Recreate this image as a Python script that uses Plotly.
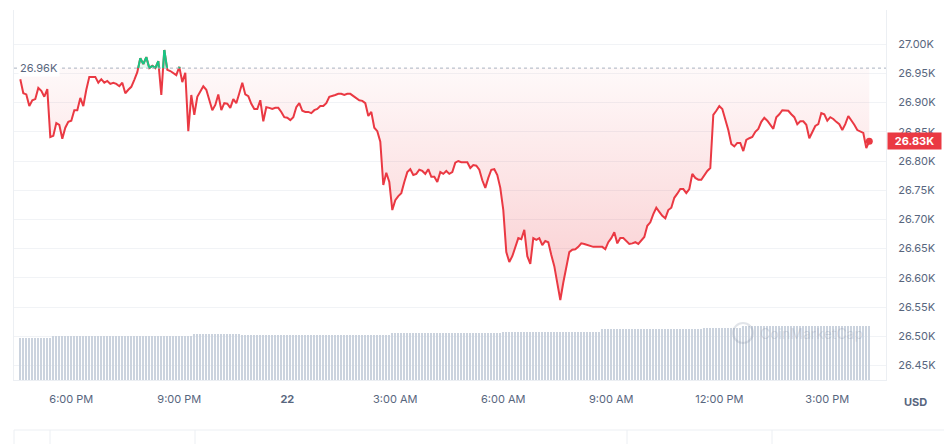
import pandas as pd
import plotly.graph_objects as go

# ---------------- data ----------------
price = [
    26940, 26916, 26914, 26894, 26904, 26906, 26925, 26920, 26910, 26923,
    26841, 26843, 26865, 26862, 26838, 26857, 26867, 26869, 26887, 26887,
    26908, 26894, 26922, 26944, 26944, 26944, 26934, 26940, 26934, 26937,
    26932, 26934, 26932, 26928, 26934, 26916, 26922, 26927, 26939, 26952,
    26976, 26966, 26978, 26959, 26963, 26959, 26971, 26913, 26990, 26956,
    26954, 26951, 26947, 26961, 26935, 26951, 26851, 26913, 26879, 26910,
    26918, 26928, 26922, 26904, 26887, 26896, 26914, 26887, 26899, 26898,
    26891, 26906, 26899, 26916, 26934, 26914, 26911, 26898, 26889, 26889,
    26904, 26868, 26892, 26891, 26889, 26891, 26891, 26884, 26875, 26874,
    26870, 26875, 26892, 26899, 26886, 26884, 26884, 26882, 26887, 26889,
    26894, 26894, 26899, 26910, 26911, 26913, 26915, 26915, 26913, 26915,
    26915, 26911, 26908, 26904, 26903, 26899, 26877, 26884, 26857, 26851,
    26833, 26759, 26780, 26764, 26716, 26733, 26740, 26745, 26764, 26781,
    26786, 26776, 26778, 26785, 26783, 26778, 26786, 26773, 26773, 26764,
    26781, 26778, 26783, 26778, 26781, 26797, 26800, 26798, 26798, 26798,
    26788, 26793, 26792, 26785, 26767, 26754, 26771, 26785, 26786, 26776,
    26754, 26716, 26644, 26627, 26637, 26651, 26668, 26666, 26682, 26637,
    26624, 26668, 26665, 26668, 26656, 26663, 26661, 26639, 26620, 26591,
    26562, 26592, 26618, 26644, 26648, 26649, 26653, 26659, 26658, 26656,
    26654, 26653, 26653, 26653, 26653, 26649, 26661, 26668, 26678, 26659,
    26668, 26668, 26663, 26658, 26659, 26661, 26658, 26665, 26670, 26689,
    26695, 26709, 26720, 26713, 26706, 26702, 26716, 26720, 26737, 26744,
    26752, 26752, 26745, 26752, 26778, 26771, 26768, 26768, 26776, 26783,
    26788, 26879, 26886, 26894, 26889, 26870, 26853, 26829, 26825, 26831,
    26831, 26817, 26836, 26839, 26841, 26850, 26855, 26867, 26874, 26869,
    26862, 26855, 26875, 26880, 26887, 26887, 26886, 26880, 26875, 26863,
    26868, 26868, 26862, 26839, 26851, 26860, 26863, 26882, 26880, 26869,
    26875, 26872, 26867, 26863, 26853, 26863, 26877, 26870, 26862, 26853,
    26850, 26848, 26822, 26834,
]

# volume (billions USD), one per price point
volume = [
    11.4, 11.4, 11.4, 11.4, 11.4, 11.4, 11.4, 11.4, 11.4, 11.4,
    11.4, 11.9, 11.9, 11.9, 11.9, 11.9, 11.9, 11.9, 11.9, 11.9,
    11.9, 11.9, 11.9, 11.9, 11.9, 11.9, 11.9, 11.9, 11.9, 11.9,
    11.9, 11.9, 11.9, 11.9, 11.9, 11.9, 11.9, 11.9, 11.9, 11.9,
    11.9, 11.9, 11.9, 11.9, 11.9, 11.9, 11.9, 11.9, 11.9, 11.9,
    11.9, 11.9, 11.9, 11.9, 11.9, 11.9, 11.9, 11.9, 12.4, 12.4,
    12.4, 12.4, 12.4, 12.4, 12.4, 12.4, 12.4, 12.4, 12.4, 12.4,
    12.4, 12.4, 12.4, 12.4, 12.2, 12.2, 12.2, 12.2, 12.2, 12.2,
    12.2, 12.2, 12.2, 12.2, 12.2, 12.2, 12.2, 12.2, 12.2, 12.2,
    12.2, 12.2, 12.2, 12.2, 12.2, 12.2, 12.2, 12.2, 12.2, 12.2,
    12.2, 12.2, 12.2, 12.2, 12.2, 12.2, 12.2, 12.2, 12.2, 12.2,
    12.2, 12.2, 12.2, 12.2, 12.2, 12.2, 12.2, 12.2, 12.2, 12.2,
    12.2, 12.2, 12.2, 12.2, 12.6, 12.6, 12.6, 12.6, 12.6, 12.6,
    12.6, 12.6, 12.6, 12.6, 12.6, 12.6, 12.6, 12.6, 12.6, 12.6,
    12.6, 12.6, 12.6, 12.6, 12.6, 12.6, 12.6, 12.6, 12.6, 12.6,
    12.6, 12.6, 12.6, 12.6, 12.6, 12.6, 12.6, 12.6, 12.6, 12.6,
    12.6, 13.1, 13.1, 13.1, 13.1, 13.1, 13.1, 13.1, 13.1, 13.1,
    13.1, 13.1, 13.1, 13.1, 13.1, 13.1, 13.1, 13.1, 13.1, 13.1,
    13.1, 13.1, 13.1, 13.1, 13.1, 13.1, 13.1, 13.1, 13.1, 13.1,
    13.1, 13.1, 13.1, 13.1, 13.7, 13.7, 13.7, 13.7, 13.7, 13.7,
    13.7, 13.7, 13.7, 13.7, 13.7, 13.7, 13.7, 13.7, 13.7, 13.7,
    13.7, 13.7, 13.7, 13.7, 13.7, 13.7, 13.7, 13.7, 13.7, 13.7,
    13.7, 13.7, 13.7, 13.7, 13.7, 13.7, 13.7, 13.7, 14.0, 14.0,
    14.0, 14.0, 14.0, 14.0, 14.0, 14.0, 14.0, 14.0, 14.0, 14.0,
    14.0, 14.5, 14.5, 14.5, 14.5, 14.5, 14.5, 14.5, 14.5, 14.5,
    14.5, 14.5, 14.5, 14.5, 14.5, 14.5, 14.5, 14.5, 14.5, 14.5,
    14.5, 14.5, 14.5, 14.5, 14.5, 14.5, 14.5, 14.5, 14.5, 14.5,
    14.5, 14.5, 14.5, 14.5, 14.5, 14.5, 14.5, 14.5, 14.5, 14.5,
    14.5, 14.5, 14.5, 14.5,
]

start_time = "2023-09-21 16:35"
step = "5min"
open_price = 26959
open_label = "26.96K"
last_label = "26.83K"
currency = "USD"
watermark = "CoinMarketCap"

y_ticks = [26450, 26500, 26550, 26600, 26650, 26700, 26750, 26800,
           26850, 26900, 26950, 27000]
y_labels = ["26.45K", "26.50K", "26.55K", "26.60K", "26.65K", "26.70K",
            "26.75K", "26.80K", "26.85K", "26.90K", "26.95K", "27.00K"]
x_ticks = ["2023-09-21 18:00", "2023-09-21 21:00", "2023-09-22 00:00",
           "2023-09-22 03:00", "2023-09-22 06:00", "2023-09-22 09:00",
           "2023-09-22 12:00", "2023-09-22 15:00"]
x_labels = ["6:00 PM", "9:00 PM", "<b>22</b>", "3:00 AM", "6:00 AM",
            "9:00 AM", "12:00 PM", "3:00 PM"]

# ---------------- styling ----------------
RED = "#ea3943"
GREEN = "#16c784"
TXT = "#58667e"
GRID = "#f1f3f6"
BORDER = "#eceff3"

# page has an 8px body margin; plot area sits at x 14..886, y 10..380 in the window
PW, PH = 872, 370
def px_x(px):
    return (px - 14) / PW
def px_y(py):
    return (380 - py) / PH

times = pd.date_range(start_time, periods=len(price), freq=step)
n = len(price)

below = [min(p, open_price) for p in price]
above = [max(p, open_price) for p in price]
base = [open_price] * n

fig = go.Figure()

# volume bars
fig.add_trace(go.Bar(x=times, y=volume, yaxis="y2", width=200000,
                     marker=dict(color="#cbd3de", line=dict(width=0)),
                     hoverinfo="skip"))

# red area between price and open line
fig.add_trace(go.Scatter(x=times, y=base, mode="lines", line=dict(width=0),
                         hoverinfo="skip"))
fig.add_trace(go.Scatter(
    x=times, y=below, mode="lines", line=dict(width=0), fill="tonexty",
    fillgradient=dict(type="vertical", start=26550, stop=open_price,
                      colorscale=[[0, "rgba(234,57,67,0.26)"],
                                  [1, "rgba(234,57,67,0.03)"]]),
    hoverinfo="skip"))
# green area
fig.add_trace(go.Scatter(x=times, y=base, mode="lines", line=dict(width=0),
                         hoverinfo="skip"))
fig.add_trace(go.Scatter(x=times, y=above, mode="lines", line=dict(width=0),
                         fill="tonexty", fillcolor="rgba(22,199,132,0.10)",
                         hoverinfo="skip"))

# price line (red), green overlay above the open line
fig.add_trace(go.Scatter(x=times, y=price, mode="lines",
                         line=dict(color=RED, width=2)))
gx, gy = [], []
for i in range(n - 1):
    p0, p1 = price[i], price[i + 1]
    if p0 <= open_price and p1 <= open_price:
        continue
    t0, t1 = times[i], times[i + 1]
    if p0 >= open_price and p1 >= open_price:
        seg = [(t0, p0), (t1, p1)]
    else:
        f = (open_price - p0) / (p1 - p0)
        tc = t0 + (t1 - t0) * f
        seg = [(t0, p0), (tc, open_price)] if p0 > open_price else [(tc, open_price), (t1, p1)]
    gx += [seg[0][0], seg[1][0], None]
    gy += [seg[0][1], seg[1][1], None]
fig.add_trace(go.Scatter(x=gx, y=gy, mode="lines", line=dict(color=GREEN, width=2),
                         connectgaps=False))

# last point dot
fig.add_trace(go.Scatter(x=[times[-1]], y=[price[-1]], mode="markers",
                         marker=dict(color=RED, size=7)))

shapes = [
    dict(type="line", xref="paper", yref="y", x0=0, x1=1, y0=open_price, y1=open_price,
         line=dict(color="#a9b2c0", width=1, dash="dot")),
    # watermark logo circle
    dict(type="circle", xref="paper", yref="paper",
         x0=px_x(733), x1=px_x(753), y0=px_y(343), y1=px_y(323),
         line=dict(color="rgba(120,132,155,0.22)", width=2)),
    # cut-off UI strip below the chart
    dict(type="line", xref="paper", yref="paper", x0=0, x1=px_x(944),
         y0=px_y(430), y1=px_y(430), line=dict(color=BORDER, width=1)),
]
for pxv in [14, 50, 195, 627, 772]:
    shapes.append(dict(type="line", xref="paper", yref="paper",
                       x0=px_x(pxv), x1=px_x(pxv), y0=px_y(430), y1=px_y(444),
                       line=dict(color=BORDER, width=1)))

annotations = [
    dict(xref="paper", yref="y", x=0, y=open_price, xanchor="left", yanchor="middle",
         xshift=4, text=open_label, showarrow=False, bgcolor="white",
         font=dict(size=11, color=TXT)),
    dict(xref="paper", yref="y", x=1, y=price[-1], xanchor="left", yanchor="middle",
         xshift=1, text="<b>" + last_label + "</b>", showarrow=False,
         bgcolor=RED, borderpad=2, width=49, height=12,
         font=dict(size=11, color="white")),
    dict(xref="paper", yref="paper", x=px_x(915), y=px_y(402),
         xanchor="center", yanchor="middle", text="<b>" + currency + "</b>",
         showarrow=False, font=dict(size=11, color=TXT)),
    dict(xref="paper", yref="paper", x=px_x(758), y=px_y(333),
         xanchor="left", yanchor="middle", text=watermark, showarrow=False,
         font=dict(size=14, color="rgba(120,132,155,0.22)", family="Inter")),
]

fig.update_layout(
    width=944, height=436,
    margin=dict(l=6, r=66, t=2, b=64),
    paper_bgcolor="white", plot_bgcolor="white",
    showlegend=False,
    font=dict(family="Inter", size=11, color=TXT),
    xaxis=dict(type="date",
               range=["2023-09-21 16:24:30", "2023-09-22 16:37:50"],
               tickmode="array", tickvals=x_ticks, ticktext=x_labels,
               showgrid=False, zeroline=False, showline=True, linecolor=BORDER,
               ticks="", ticklabelstandoff=9,
               tickfont=dict(size=11, color=TXT)),
    yaxis=dict(side="right", range=[26425.1, 27058.5],
               tickmode="array", tickvals=y_ticks, ticktext=y_labels,
               showgrid=True, gridcolor=GRID, zeroline=False,
               showline=True, linecolor=BORDER, mirror=True,
               ticks="", ticklabelstandoff=9,
               tickfont=dict(size=11, color=TXT)),
    yaxis2=dict(overlaying="y", range=[0, 100], visible=False),
    shapes=shapes,
    annotations=annotations,
    bargap=0,
)

fig.write_html("out.html")
